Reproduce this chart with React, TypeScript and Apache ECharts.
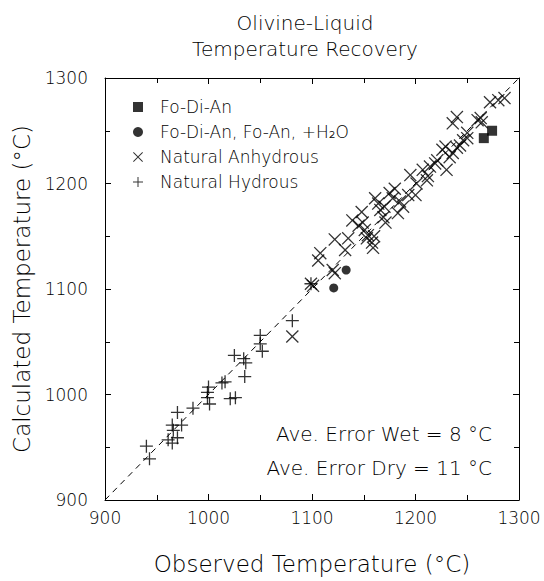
import React, { useEffect, useRef } from "react";
import * as echarts from "echarts";

const titleLines = ["Olivine-Liquid", "Temperature Recovery"];
const xName = "Observed Temperature (°C)";
const yName = "Calculated Temperature (°C)";
const errorNotes = ["Ave. Error Wet = 8 °C", "Ave. Error Dry = 11 °C"];

const seriesNames = ["Fo-Di-An", "Fo-Di-An, Fo-An, +H₂O", "Natural Anhydrous", "Natural Hydrous"];

const foDiAn: number[][] = [
  [1266, 1243],
  [1274, 1250],
];

const foDiAnWet: number[][] = [
  [1121, 1101],
  [1133, 1118],
];

const naturalAnhydrous: number[][] = [
  [1081, 1055], [1099, 1105], [1101, 1103], [1106, 1127], [1108, 1134], [1122, 1115],
  [1120, 1118], [1122, 1147], [1135, 1148], [1132, 1137], [1139, 1165], [1148, 1173],
  [1149, 1163], [1151, 1156], [1154, 1151], [1158, 1144], [1159, 1139], [1153, 1148],
  [1161, 1186], [1166, 1175], [1169, 1168], [1171, 1163], [1175, 1191], [1178, 1186],
  [1183, 1172], [1185, 1183], [1193, 1189], [1200, 1189], [1195, 1208], [1201, 1200],
  [1207, 1213], [1211, 1203], [1214, 1216], [1221, 1222], [1164, 1181], [1219, 1219],
  [1230, 1213], [1226, 1232], [1229, 1235], [1233, 1225], [1236, 1229], [1240, 1234],
  [1243, 1236], [1246, 1241], [1250, 1248], [1236, 1257], [1240, 1263], [1260, 1260],
  [1264, 1258], [1272, 1277], [1280, 1279], [1286, 1281], [1180, 1195], [1188, 1178],
  [1170, 1178], [1145, 1160], [1160, 1150], [1212, 1207], [1250, 1243], [1263, 1262],
];

const naturalHydrous: number[][] = [
  [940, 951], [943, 939], [961, 957], [965, 954], [965, 971], [966, 966], [970, 959],
  [974, 971], [970, 983], [985, 987], [999, 1002], [1000, 1007], [999, 997], [1001, 991],
  [1013, 1011], [1016, 1012], [1021, 996], [1026, 997], [1025, 1037], [1034, 1034],
  [1036, 1030], [1035, 1017], [1050, 1056], [1050, 1048], [1052, 1041], [1081, 1070],
  [1099, 1105],
];

const oneToOne: number[][] = [
  [900, 900],
  [1300, 1300],
];

const axisMin = 900;
const axisMax = 1300;
const axisStep = 100;

const FONT = "'DejaVu Sans'";
const W = 200 as any;
const PLUS = "path://M0,4.5H10V5.5H0Z M4.5,0H5.5V10H4.5Z";
const CROSS = "path://M0,0.7L0.7,0L5,4.3L9.3,0L10,0.7L5.7,5L10,9.3L9.3,10L5,5.7L0.7,10L0,9.3L4.3,5Z";

export default function App() {
  const ref = useRef<HTMLDivElement>(null);
  useEffect(() => {
    if (!ref.current) return;
    const chart = echarts.init(ref.current, undefined, { renderer: "svg" });
    const baseAxis = {
      type: "value" as const,
      min: axisMin,
      max: axisMax,
      interval: axisStep,
      axisLine: { show: true, lineStyle: { color: "#000", width: 1 } },
      axisTick: { show: true, inside: true, length: 6, lineStyle: { color: "#000" } },
      minorTick: { show: true, splitNumber: 2, length: 5, lineStyle: { color: "#000" } },
      splitLine: { show: false },
    };
    const labelStyle = {
      color: "#000",
      fontFamily: FONT,
      fontSize: 17,
      fontWeight: W,
      formatter: (v: number) => String(v),
    };
    const nameStyle = { color: "#000", fontFamily: FONT, fontSize: 23, fontWeight: W };
    chart.setOption({
      animation: false,
      backgroundColor: "#fff",
      title: {
        text: titleLines.join("\n"),
        left: 300,
        top: 5,
        textAlign: "center",
        textStyle: { color: "#000", fontFamily: FONT, fontSize: 20, fontWeight: W, lineHeight: 26 },
      },
      grid: { left: 105, right: 25, top: 78, bottom: 81 },
      legend: {
        orient: "vertical",
        left: 128,
        top: 92,
        itemWidth: 10,
        itemHeight: 10,
        itemGap: 5,
        data: seriesNames,
        selectedMode: false,
        textStyle: {
          color: "#000",
          fontFamily: FONT,
          fontSize: 17,
          fontWeight: W,
          lineHeight: 20,
          padding: [0, 0, 0, 12],
        },
      },
      xAxis: [
        {
          ...baseAxis,
          position: "bottom",
          name: xName,
          nameLocation: "middle",
          nameGap: 52,
          nameTextStyle: nameStyle,
          axisLabel: { ...labelStyle, margin: 9 },
        },
        { ...baseAxis, position: "top", axisLabel: { show: false } },
      ],
      yAxis: [
        {
          ...baseAxis,
          position: "left",
          name: yName,
          nameLocation: "middle",
          nameGap: 71,
          nameTextStyle: nameStyle,
          axisLabel: { ...labelStyle, margin: 17 },
        },
        { ...baseAxis, position: "right", axisLabel: { show: false } },
      ],
      graphic: errorNotes.map((t, i) => ({
        type: "text",
        right: 52,
        top: 424 + i * 34,
        style: { text: t, fill: "#000", font: `${W} 20px ${FONT}` },
      })),
      series: [
        {
          type: "line",
          data: oneToOne,
          symbol: "none",
          silent: true,
          lineStyle: { color: "#000", width: 1, type: [6, 5] },
          z: 1,
        },
        {
          name: seriesNames[0],
          type: "scatter",
          data: foDiAn,
          symbol: "rect",
          symbolSize: 10,
          itemStyle: { color: "#000" },
          z: 3,
        },
        {
          name: seriesNames[1],
          type: "scatter",
          data: foDiAnWet,
          symbol: "circle",
          symbolSize: 9,
          itemStyle: { color: "#000" },
          z: 3,
        },
        {
          name: seriesNames[2],
          type: "scatter",
          data: naturalAnhydrous,
          symbol: CROSS,
          symbolSize: 13,
          itemStyle: { color: "#000" },
          z: 2,
        },
        {
          name: seriesNames[3],
          type: "scatter",
          data: naturalHydrous,
          symbol: PLUS,
          symbolSize: 13,
          itemStyle: { color: "#000" },
          z: 2,
        },
      ],
    });
    return () => chart.dispose();
  }, []);
  return <div ref={ref} style={{ width: 544, height: 581, position: "absolute", left: 0, top: 0 }} />;
}
